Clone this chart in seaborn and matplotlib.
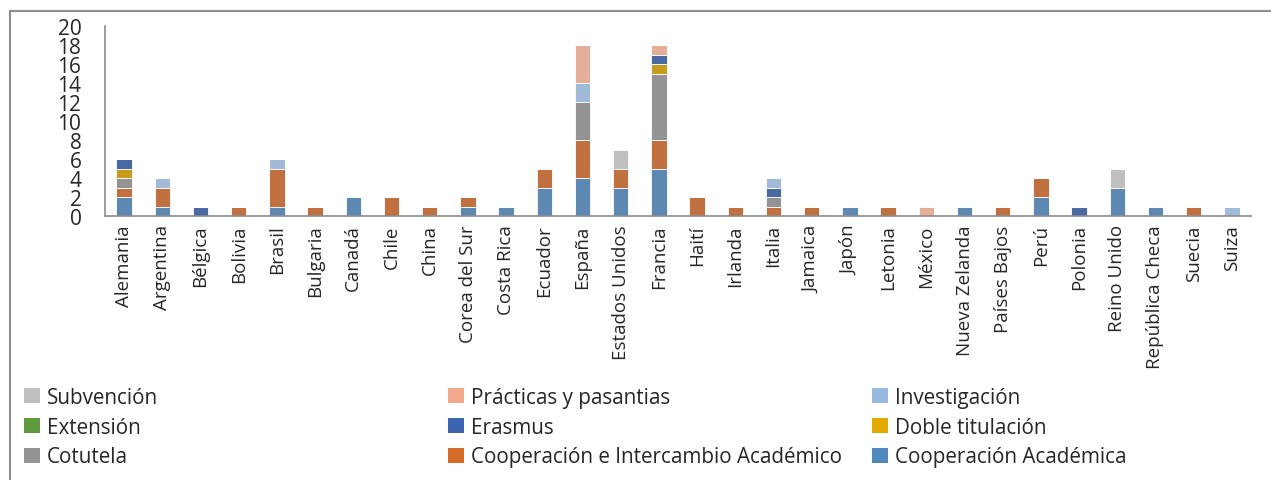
import matplotlib
matplotlib.use("Agg")
import matplotlib.pyplot as plt
from matplotlib.patches import Patch
from matplotlib.lines import Line2D
from matplotlib.ticker import MultipleLocator
import numpy as np
import seaborn as sns

paises = ["Alemania", "Argentina", "Bélgica", "Bolivia", "Brasil", "Bulgaria",
          "Canadá", "Chile", "China", "Corea del Sur", "Costa Rica", "Ecuador",
          "España", "Estados Unidos", "Francia", "Haití", "Irlanda", "Italia",
          "Jamaica", "Japón", "Letonia", "México", "Nueva Zelanda", "Países Bajos",
          "Perú", "Polonia", "Reino Unido", "República Checa", "Suecia", "Suiza"]

# stacked from bottom to top
coop_academica = [2, 1, 0, 0, 1, 0, 2, 0, 0, 1, 1, 3, 4, 3, 5, 0, 0, 0, 0, 1, 0, 0, 1, 0, 2, 0, 3, 1, 0, 0]
coop_intercambio = [1, 2, 0, 1, 4, 1, 0, 2, 1, 1, 0, 2, 4, 2, 3, 2, 1, 1, 1, 0, 1, 0, 0, 1, 2, 0, 0, 0, 1, 0]
cotutela = [1, 0, 0, 0, 0, 0, 0, 0, 0, 0, 0, 0, 4, 0, 7, 0, 0, 1, 0, 0, 0, 0, 0, 0, 0, 0, 0, 0, 0, 0]
doble_titulacion = [1, 0, 0, 0, 0, 0, 0, 0, 0, 0, 0, 0, 0, 0, 1, 0, 0, 0, 0, 0, 0, 0, 0, 0, 0, 0, 0, 0, 0, 0]
erasmus = [1, 0, 1, 0, 0, 0, 0, 0, 0, 0, 0, 0, 0, 0, 1, 0, 0, 1, 0, 0, 0, 0, 0, 0, 0, 1, 0, 0, 0, 0]
extension = [0] * 30
investigacion = [0, 1, 0, 0, 1, 0, 0, 0, 0, 0, 0, 0, 2, 0, 0, 0, 0, 1, 0, 0, 0, 0, 0, 0, 0, 0, 0, 0, 0, 1]
practicas = [0, 0, 0, 0, 0, 0, 0, 0, 0, 0, 0, 0, 4, 0, 1, 0, 0, 0, 0, 0, 0, 1, 0, 0, 0, 0, 0, 0, 0, 0]
subvencion = [0, 0, 0, 0, 0, 0, 0, 0, 0, 0, 0, 0, 0, 2, 0, 0, 0, 0, 0, 0, 0, 0, 0, 0, 0, 0, 2, 0, 0, 0]

series = [
    ("Cooperación Académica", coop_academica, "#4F89BF"),
    ("Cooperación e Intercambio Académico", coop_intercambio, "#D56C29"),
    ("Cotutela", cotutela, "#939393"),
    ("Doble titulación", doble_titulacion, "#E3AA00"),
    ("Erasmus", erasmus, "#3C64AF"),
    ("Extensión", extension, "#5E9A3C"),
    ("Investigación", investigacion, "#98B9E0"),
    ("Prácticas y pasantias", practicas, "#F2A98B"),
    ("Subvención", subvencion, "#BFBFBF"),
]

sns.set_style("white")
plt.rcParams["font.family"] = ["Open Sans", "DejaVu Sans"]

W, H = 1271, 481
fig = plt.figure(figsize=(W / 100, H / 100), dpi=100)
ax = fig.add_axes([105 / W, 1 - 217 / H, (1251 - 105) / W, (217 - 27) / H])

bottom = np.zeros(len(paises))
for name, vals, col in series:
    sns.barplot(x=paises, y=vals, bottom=bottom, color=col, width=0.4,
                edgecolor="white", linewidth=0.6, ax=ax)
    bottom += np.array(vals)

gray = "#8C8C8C"
ax.set_xlim(-0.5, len(paises) - 0.5)
ax.set_ylim(0, 20)
ax.yaxis.set_major_locator(MultipleLocator(2))
ax.set_xticks(range(len(paises)))
ax.set_xticklabels(paises, rotation=90, fontsize=13.5, va="top", ha="center")
ax.set_xticks(np.arange(-0.5, len(paises)), minor=True)
ax.tick_params(axis="x", which="major", length=0, pad=6)
ax.tick_params(axis="x", which="minor", length=8, width=1.2, color=gray, direction="out")
ax.tick_params(axis="y", length=6, width=1.2, color=gray, direction="out", labelsize=15, pad=11)
ax.set_xlabel("")
ax.set_ylabel("")
sns.despine(ax=ax, top=True, right=True)
for s in ("left", "bottom"):
    ax.spines[s].set_color(gray)
    ax.spines[s].set_linewidth(1.2)

# legend in three columns, filled row by row
lookup = {n: c for n, v, c in series}
cols = [["Subvención", "Extensión", "Cotutela"],
        ["Prácticas y pasantias", "Erasmus", "Cooperación e Intercambio Académico"],
        ["Investigación", "Doble titulación", "Cooperación Académica"]]
xs = [24, 448, 872]
for names, x0 in zip(cols, xs):
    handles = [Patch(facecolor=lookup[n], edgecolor="none") for n in names]
    fig.legend(handles, names, loc="upper left", bbox_to_anchor=(x0 / W, 1 - 388 / H),
               frameon=False, fontsize=14.9, handlelength=0.75, handleheight=0.75,
               handletextpad=0.35, labelspacing=0.42, borderaxespad=0, borderpad=0)

# outer frame of the chart
fig.add_artist(Line2D([10 / W, 1], [1 - 12 / H, 1 - 12 / H], color=gray, lw=1.5))
fig.add_artist(Line2D([10 / W, 10 / W], [0, 1 - 12 / H], color=gray, lw=1.5))

fig.savefig("out.png", dpi=100)
